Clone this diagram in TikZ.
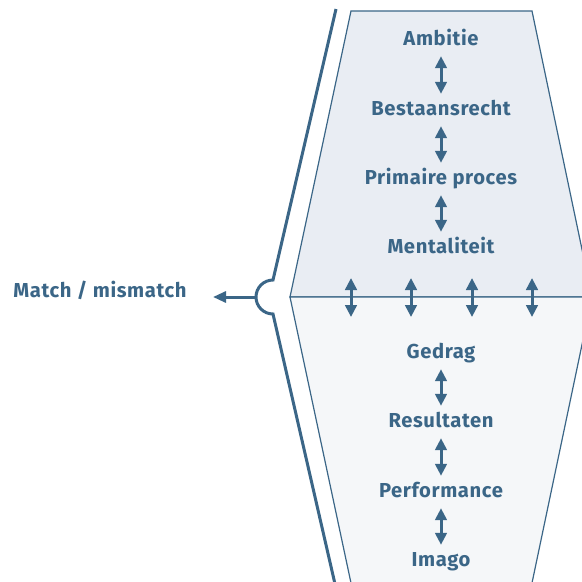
\documentclass[tikz,border=0pt]{standalone}
\usepackage{fontspec}
\setmainfont{Fira Sans}[LetterSpace=3]
\usetikzlibrary{arrows.meta}
\definecolor{ink}{HTML}{3B6687}
\definecolor{upfill}{HTML}{E9EDF3}
\definecolor{lowfill}{HTML}{F5F7F9}
\begin{document}
\begin{tikzpicture}[x=1pt,y=-1pt,
  lbl/.style={font=\bfseries\fontsize{20.2}{22}\selectfont, text=ink, inner sep=0pt, anchor=base, text height=13pt, text depth=4pt},
  dbl/.style={draw=ink, line width=3pt, {Triangle[length=12pt,width=11.5pt]}-{Triangle[length=12pt,width=11.5pt]}, shorten <=7pt, shorten >=8pt},
  mid/.style={draw=ink, line width=3pt, {Triangle[length=12pt,width=11.5pt]}-{Triangle[length=12pt,width=11.5pt]}},
  band/.style={draw=ink, line width=1.2pt, line join=miter}]
\useasboundingbox (0,0) rectangle (582,582);
\begin{scope}
\clip (0,0) rectangle (582,582);
% upper and lower halves
\path[band, fill=upfill] (351,11) -- (532,11) -- (592,297) -- (290,297) -- cycle;
\path[band, fill=lowfill] (290,297) -- (592,297) -- (532,583) -- (351,583) -- cycle;
% outer line with bump
\draw[ink, line width=3pt] (336,9) -- (273,280) arc[start angle=-90, end angle=-270, radius=17] -- (335,584);
\end{scope}
% labels
\node[lbl] (a1) at (441,45) {Ambitie};
\node[lbl] (a2) at (441,115) {Bestaansrecht};
\node[lbl] (a3) at (441,184) {Primaire proces};
\node[lbl] (a4) at (441,253) {Mentaliteit};
\node[lbl] (b1) at (441,358) {Gedrag};
\node[lbl] (b2) at (441,427) {Resultaten};
\node[lbl] (b3) at (441,497) {Performance};
\node[lbl] (b4) at (441,566) {Imago};
\node[lbl] (match) at (100,297) {Match / mismatch};
% vertical connectors
\draw[dbl] (a1.south) -- (a2.north);
\draw[dbl] (a2.south) -- (a3.north);
\draw[dbl] (a3.south) -- (a4.north);
\draw[dbl] (b1.south) -- (b2.north);
\draw[dbl] (b2.south) -- (b3.north);
\draw[dbl] (b3.south) -- (b4.north);
% middle arrows
\foreach \i/\x in {1/351,2/411,3/472,4/532}{
  \coordinate (u\i) at (\x,278);
  \coordinate (d\i) at (\x,317);
  \draw[mid] (u\i) -- (d\i);
}
% match arrow
\coordinate (arcL) at (256,297);
\coordinate (tipL) at (213,297);
\draw[ink, line width=3pt, -{Triangle[length=13pt,width=11pt]}] (arcL) -- (tipL);
\end{tikzpicture}
\end{document}
